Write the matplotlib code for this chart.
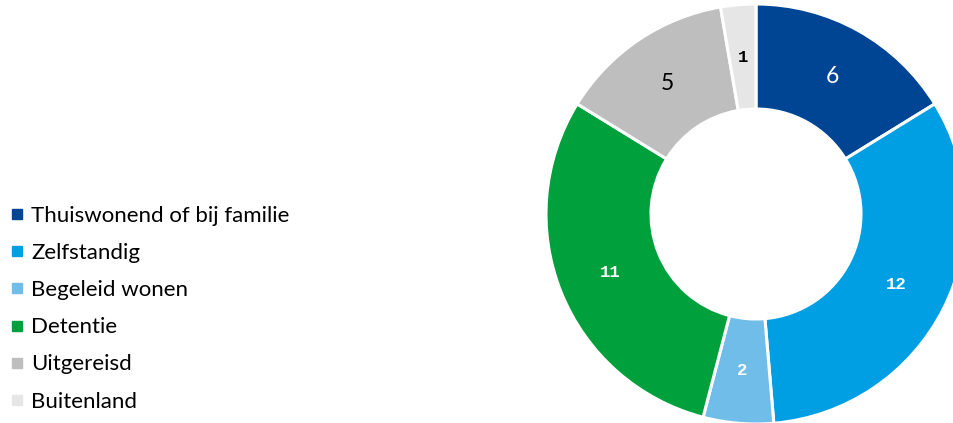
import matplotlib
matplotlib.use("Agg")
from matplotlib import pyplot as plt
from matplotlib.lines import Line2D
import numpy as np

categories = ['Thuiswonend of bij familie', 'Zelfstandig', 'Begeleid wonen',
              'Detentie', 'Uitgereisd', 'Buitenland']
values = [6, 12, 2, 11, 5, 1]
colors = ['#004494', '#009fe3', '#71bdea', '#00a03c', '#bebebe', '#e6e6e6']
label_colors = ['white', 'white', 'white', 'white', 'black', 'black']

plt.rcParams['font.family'] = ['Lato', 'DejaVu Sans']

fig = plt.figure(figsize=(9.54, 4.23), dpi=100)
ax = fig.add_axes([546 / 954, -1 / 423, 420 / 954, 420 / 423])

wedges, _ = ax.pie(values, colors=colors, startangle=90, counterclock=False,
                   radius=1, wedgeprops=dict(width=0.5, edgecolor='white', linewidth=2.2))
ax.set_xlim(-1, 1)
ax.set_ylim(-1, 1)
ax.axis('off')

# value labels in the middle of the ring
for w, v, c in zip(wedges, values, label_colors):
    mid = np.deg2rad((w.theta1 + w.theta2) / 2)
    x, y = 0.75 * np.cos(mid), 0.75 * np.sin(mid)
    if v in (5, 6):
        ax.text(x, y, str(v), ha='center', va='center', color=c, fontsize=16.5)
    else:
        ax.text(x, y, str(v), ha='center', va='center', color=c, fontsize=12.5,
                fontfamily='Liberation Mono', fontweight='bold')

handles = [Line2D([], [], marker='s', color=col, linestyle='', markersize=6.5)
           for col in colors]
fig.legend(handles, categories, loc='upper left', bbox_to_anchor=(9 / 954, 1 - 206 / 423),
           frameon=False, fontsize=16, handlelength=0.7, handletextpad=0.3,
           labelspacing=0.77, borderaxespad=0, borderpad=0)

fig.savefig('out.png', dpi=100)
